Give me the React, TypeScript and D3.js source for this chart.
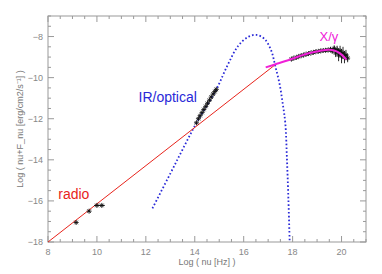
import { useEffect, useRef } from "react";
import * as d3 from "d3";

type Pt = [number, number];

// radio points: [log nu, log nuFnu, x error]
const radioX = [9.15, 9.68, 10.0, 10.2];
const radioY = [-17.05, -16.5, -16.22, -16.22];
const radioXerr = [0.03, 0.03, 0.12, 0.12];

// IR/optical points
const irX = [14.07, 14.15, 14.22, 14.3, 14.37, 14.45, 14.52, 14.6, 14.67, 14.75, 14.82, 14.88];
const irY = [-12.2, -12.0, -11.85, -11.7, -11.55, -11.4, -11.25, -11.1, -10.95, -10.8, -10.68, -10.57];

// X / gamma points
const xgX = [17.95, 18.05, 18.15, 18.25, 18.35, 18.45, 18.55, 18.65, 18.75, 18.85, 18.95, 19.05, 19.15, 19.25, 19.35, 19.45, 19.55, 19.62, 19.7, 19.76, 19.82, 19.88, 19.94, 20.0, 20.06, 20.12, 20.18, 20.25];
const xgY = [-9.1, -9.05, -9.02, -8.97, -8.93, -8.9, -8.86, -8.83, -8.8, -8.77, -8.74, -8.72, -8.7, -8.68, -8.67, -8.66, -8.62, -8.7, -8.58, -8.8, -8.65, -8.9, -8.7, -8.95, -8.8, -9.0, -8.9, -9.05];
const xgYerr = [0.05, 0.05, 0.05, 0.05, 0.05, 0.05, 0.05, 0.05, 0.05, 0.05, 0.05, 0.06, 0.06, 0.06, 0.08, 0.08, 0.1, 0.12, 0.15, 0.2, 0.2, 0.3, 0.25, 0.35, 0.3, 0.3, 0.25, 0.2];

// red power law
const redLine: Pt[] = [[8, -18], [17.29, -9.37]];

// magenta X/gamma model
const magX = [16.9, 17.3, 17.9, 18.3, 18.7, 19.1, 19.5, 19.8, 20.0, 20.2];
const magY = [-9.5, -9.35, -9.12, -8.95, -8.8, -8.7, -8.64, -8.72, -8.88, -9.12];

// blue dotted synchrotron curve
const blueX = [12.27, 13.0, 13.5, 14.07, 14.88, 15.36, 15.77, 16.18, 16.52, 16.86, 17.13, 17.29, 17.47, 17.6, 17.7, 17.77, 17.83, 17.88];
const blueY = [-16.36, -14.67, -13.5, -12.2, -10.57, -9.35, -8.46, -8.02, -7.92, -8.13, -8.7, -9.43, -10.33, -11.3, -12.2, -14.0, -16.0, -18.0];

const xTicks = [8, 10, 12, 14, 16, 18, 20];
const yTicks = [-8, -10, -12, -14, -16, -18];

export default function App() {
  const ref = useRef<SVGSVGElement | null>(null);

  useEffect(() => {
    const width = 382,
      height = 274,
      margin = { top: 16, right: 16, bottom: 32, left: 48 };
    const svg = d3.select(ref.current);
    svg.selectAll("*").remove();

    const x = d3.scaleLinear().domain([8, 21]).range([margin.left, width - margin.right]);
    const y = d3.scaleLinear().domain([-18, -7]).range([height - margin.bottom, margin.top]);
    const font = "Liberation Sans, Arial, sans-serif";
    const grey = "#999";

    const x0 = x.range()[0], x1 = x.range()[1];
    const y0 = y.range()[0], y1 = y.range()[1];

    // frame
    svg.append("rect")
      .attr("x", x0).attr("y", y1)
      .attr("width", x1 - x0).attr("height", y0 - y1)
      .attr("fill", "none").attr("stroke", grey).attr("stroke-width", 1);

    // inward ticks on all four sides
    const minorX = d3.range(8, 21.01, 0.5);
    const minorY = d3.range(-18, -6.99, 0.5);
    const tg = svg.append("g").attr("stroke", grey).attr("stroke-width", 1);
    minorX.forEach(v => {
      const len = v % 2 === 0 ? 6 : 3;
      tg.append("line").attr("x1", x(v)).attr("x2", x(v)).attr("y1", y0).attr("y2", y0 - len);
      tg.append("line").attr("x1", x(v)).attr("x2", x(v)).attr("y1", y1).attr("y2", y1 + len);
    });
    minorY.forEach(v => {
      const len = v % 2 === 0 ? 6 : 3;
      tg.append("line").attr("x1", x0).attr("x2", x0 + len).attr("y1", y(v)).attr("y2", y(v));
      tg.append("line").attr("x1", x1).attr("x2", x1 - len).attr("y1", y(v)).attr("y2", y(v));
    });

    // tick labels
    svg.append("g").selectAll("text").data(xTicks).enter().append("text")
      .attr("x", d => x(d)).attr("y", y0 + 13)
      .attr("text-anchor", "middle").attr("font-family", font).attr("font-size", 9)
      .attr("fill", "#888").text(d => d);
    svg.append("g").selectAll("text").data(yTicks).enter().append("text")
      .attr("x", x0 - 5).attr("y", d => y(d) + 3)
      .attr("text-anchor", "end").attr("font-family", font).attr("font-size", 9)
      .attr("fill", "#888").text(d => "\u2212" + Math.abs(d));

    // axis titles
    svg.append("text")
      .attr("x", (x0 + x1) / 2).attr("y", y0 + 23)
      .attr("text-anchor", "middle").attr("font-family", font).attr("font-size", 9)
      .attr("fill", "#777").text("Log ( nu [Hz] )");
    svg.append("text")
      .attr("transform", `translate(23,${(y0 + y1) / 2}) rotate(-90)`)
      .attr("text-anchor", "middle").attr("font-family", font).attr("font-size", 9)
      .attr("fill", "#777").text("Log ( nu+F_nu [erg/cm2/s\u207B\u00B9] )");

    const line = d3.line<Pt>().x(d => x(d[0])).y(d => y(d[1]));

    // blue dotted curve
    svg.append("path")
      .datum(blueX.map((v, i) => [v, blueY[i]] as Pt))
      .attr("fill", "none").attr("stroke", "#2a2ad8").attr("stroke-width", 1.8)
      .attr("stroke-dasharray", "1.6,2.2")
      .attr("d", line.curve(d3.curveCatmullRom));

    // red power law
    svg.append("path")
      .datum(redLine)
      .attr("fill", "none").attr("stroke", "#e8241c").attr("stroke-width", 1)
      .attr("d", d3.line<Pt>().x(d => x(d[0])).y(d => y(d[1])));

    // asterisk markers
    const star = (g: d3.Selection<SVGGElement, unknown, null, undefined>, px: number, py: number, s: number) => {
      g.append("line").attr("x1", px - s).attr("x2", px + s).attr("y1", py).attr("y2", py);
      g.append("line").attr("x1", px).attr("x2", px).attr("y1", py - s).attr("y2", py + s);
      g.append("line").attr("x1", px - s * 0.7).attr("x2", px + s * 0.7).attr("y1", py - s * 0.7).attr("y2", py + s * 0.7);
      g.append("line").attr("x1", px - s * 0.7).attr("x2", px + s * 0.7).attr("y1", py + s * 0.7).attr("y2", py - s * 0.7);
    };
    const mg = svg.append("g").attr("stroke", "#111").attr("stroke-width", 0.9);
    radioX.forEach((v, i) => {
      star(mg, x(v), y(radioY[i]), 2.5);
      mg.append("line").attr("x1", x(v - radioXerr[i])).attr("x2", x(v + radioXerr[i]))
        .attr("y1", y(radioY[i])).attr("y2", y(radioY[i]));
    });
    irX.forEach((v, i) => star(mg, x(v), y(irY[i]), 2.5));
    xgX.forEach((v, i) => {
      star(mg, x(v), y(xgY[i]), 2.5);
      mg.append("line").attr("x1", x(v)).attr("x2", x(v))
        .attr("y1", y(xgY[i] - xgYerr[i])).attr("y2", y(xgY[i] + xgYerr[i]));
    });

    // magenta model
    svg.append("path")
      .datum(magX.map((v, i) => [v, magY[i]] as Pt))
      .attr("fill", "none").attr("stroke", "#f020d8").attr("stroke-width", 2)
      .attr("d", d3.line<Pt>().x(d => x(d[0])).y(d => y(d[1])).curve(d3.curveCatmullRom));

    // labels
    svg.append("text").attr("x", x(8.42)).attr("y", y(-15.9))
      .attr("font-family", font).attr("font-size", 14).attr("fill", "#e8241c").text("radio");
    svg.append("text").attr("x", x(11.7)).attr("y", y(-11.2))
      .attr("font-family", font).attr("font-size", 14).attr("fill", "#2a2ad8").text("IR/optical");
    svg.append("text").attr("x", x(19.1)).attr("y", y(-8.2))
      .attr("font-family", font).attr("font-size", 13).attr("fill", "#f020d8").text("X/\u03B3");
  }, []);

  return (
    <svg ref={ref} width={382} height={274}
      style={{ position: "absolute", left: 0, top: 0, background: "#fff" }} />
  );
}
